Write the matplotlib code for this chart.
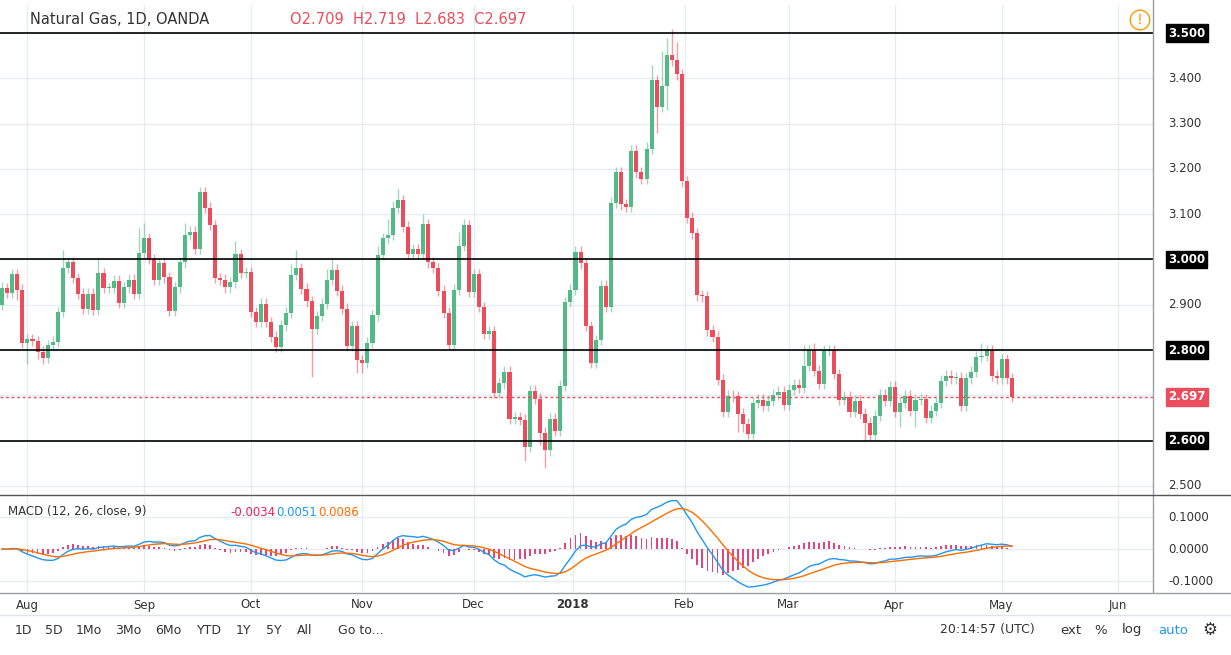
import numpy as np
import matplotlib
matplotlib.use("Agg")
import matplotlib.pyplot as plt
from matplotlib.patches import Rectangle

closes = [2.937,2.926,2.968,2.933,2.816,2.824,2.820,2.796,2.783,2.811,
          2.818,2.884,2.981,2.994,2.959,2.924,2.891,2.924,2.889,2.970,
          2.937,2.937,2.953,2.904,2.939,2.955,2.924,3.014,3.047,3.001,
          2.955,2.992,2.961,2.887,2.939,2.994,3.054,3.061,3.023,3.149,
          3.114,3.076,2.959,2.955,2.939,2.950,3.012,2.970,2.972,2.884,
          2.862,2.902,2.862,2.829,2.807,2.855,2.882,2.966,2.981,2.935,
          2.908,2.847,2.875,2.902,2.955,2.977,2.931,2.891,2.809,2.853,
          2.778,2.772,2.816,2.877,3.010,3.047,3.054,3.114,3.131,3.072,
          3.012,3.023,3.012,3.078,2.994,2.981,2.931,2.882,2.811,2.933,
          3.030,3.076,2.928,2.968,2.895,2.836,2.842,2.705,2.727,2.752,
          2.648,2.652,2.646,2.586,2.710,2.692,2.617,2.579,2.648,2.621,
          2.721,2.906,2.933,3.017,2.992,2.853,2.772,2.822,2.942,2.895,
          3.125,3.193,3.122,3.116,3.240,3.193,3.178,3.244,3.396,3.337,
          3.383,3.451,3.440,3.409,3.173,3.092,3.058,2.921,2.919,2.844,
          2.829,2.734,2.663,2.699,2.698,2.659,2.637,2.615,2.684,2.690,
          2.677,2.688,2.701,2.708,2.679,2.712,2.723,2.716,2.765,2.800,
          2.754,2.725,2.798,2.799,2.747,2.690,2.697,2.663,2.688,2.659,
          2.639,2.613,2.655,2.701,2.688,2.719,2.663,2.684,2.699,2.666,
          2.690,2.691,2.650,2.666,2.684,2.732,2.743,2.738,2.739,2.677,
          2.738,2.752,2.785,2.787,2.800,2.743,2.738,2.780,2.738,2.697]
first_open = 2.900
default_wick = 0.012
high_spikes = {0: 2.95, 12: 3.02, 19: 3.0, 27: 3.07, 28: 3.08, 36: 3.08, 39: 3.16, 40: 3.16,
               46: 3.04, 57: 2.99, 58: 3.02, 64: 2.98, 65: 3.00, 74: 3.03, 76: 3.09,
               77: 3.13, 78: 3.155, 83: 3.10, 90: 3.06, 91: 3.09, 92: 3.07, 127: 3.26,
               128: 3.43, 129: 3.39, 130: 3.46, 131: 3.49, 132: 3.51, 133: 3.48,
               158: 2.81, 160: 2.815, 162: 2.81, 193: 2.815, 194: 2.805}
low_spikes = {3: 2.91, 5: 2.77, 7: 2.78, 8: 2.77, 61: 2.74, 70: 2.75, 71: 2.75,
              103: 2.555, 107: 2.54, 106: 2.59, 129: 3.28, 131: 3.33, 145: 2.62,
              146: 2.62, 170: 2.60, 171: 2.61, 177: 2.63, 180: 2.63, 199: 2.685}
month_ticks = [5, 28, 49, 71, 93, 112.6, 134.5, 155, 176, 197, 220]
month_labels = ["Aug", "Sep", "Oct", "Nov", "Dec", "2018", "Feb", "Mar", "Apr", "May", "Jun"]
key_levels = [3.5, 3.0, 2.8, 2.6]
price_ticks = [2.5, 2.6, 2.7, 2.8, 2.9, 3.0, 3.1, 3.2, 3.3, 3.4, 3.5]
macd_ticks = [0.1, 0.0, -0.1]
last_price = 2.697

c = np.array(closes)
o = np.concatenate([[first_open], c[:-1]])
h = np.maximum(o, c) + default_wick
l = np.minimum(o, c) - default_wick
for k, v in high_spikes.items():
    h[k] = max(h[k], v)
for k, v in low_spikes.items():
    l[k] = min(l[k], v)

def ema(x, n):
    a = 2 / (n + 1)
    out = np.empty_like(x)
    out[0] = x[0]
    for i in range(1, len(x)):
        out[i] = a * x[i] + (1 - a) * out[i - 1]
    return out
macd = ema(c, 12) - ema(c, 26)
sig = ema(macd, 9)
hist = macd - sig

W, H = 1231, 655
fig = plt.figure(figsize=(W / 100, H / 100), dpi=100)
fig.patch.set_facecolor("white")
def fx(px): return px / W
def fy(py): return 1 - py / H

GREEN, RED = "#53b987", "#eb4d5c"
xl = (-0.4, 226.8)
ax = fig.add_axes([0, fy(494), fx(1153), fy(5) - fy(494)])
ax.set_xlim(*xl); ax.set_ylim(2.482, 3.562)
for t in price_ticks:
    ax.axhline(t, color="#e6edf2", lw=1, zorder=0)
for t in month_ticks:
    ax.axvline(t, color="#e6edf2", lw=1, zorder=0)
for i in range(len(c)):
    col = GREEN if c[i] >= o[i] else RED
    ax.vlines(i, l[i], h[i], color=col, alpha=0.55, lw=1, zorder=2)
    lo, hi = min(o[i], c[i]), max(o[i], c[i])
    ax.add_patch(Rectangle((i - 0.4, lo), 0.8, max(hi - lo, 0.0015), color=col, lw=0, zorder=3))
for lv in key_levels:
    ax.axhline(lv, color="black", lw=1.2, zorder=4)
ax.axhline(last_price, color=RED, lw=1, ls=(0, (2, 2)), zorder=4)
ax.set_xticks([]); ax.set_yticks([])
for s in ax.spines.values(): s.set_visible(False)

ax2 = fig.add_axes([0, fy(592), fx(1153), fy(497) - fy(592)])
ax2.set_xlim(*xl); ax2.set_ylim(-0.134, 0.1625)
for t in macd_ticks:
    ax2.axhline(t, color="#e6edf2", lw=1, zorder=0)
for t in month_ticks:
    ax2.axvline(t, color="#e6edf2", lw=1, zorder=0)
ax2.bar(np.arange(len(c)), hist, width=0.35, color="#e0457b", zorder=2)
ax2.plot(np.arange(len(c)), macd, color="#2196f3", lw=1, zorder=3)
ax2.plot(np.arange(len(c)), sig, color="#ff6d00", lw=1, zorder=3)
ax2.set_xticks([]); ax2.set_yticks([])
for s in ax2.spines.values(): s.set_visible(False)

fig.add_artist(plt.Line2D([fx(1153)] * 2, [fy(0), fy(592)], color="#9aa0a6", lw=1))
fig.add_artist(plt.Line2D([0, 1], [fy(495)] * 2, color="#555", lw=1))
fig.add_artist(plt.Line2D([0, 1], [fy(593)] * 2, color="#9aa0a6", lw=1))
fig.add_artist(plt.Line2D([0, 1], [fy(615)] * 2, color="#e0e3eb", lw=1))

def ylab(ax_, val, txt, box=None, col="#333"):
    kw = dict(fontsize=8.5, va="center", ha="left", transform=ax_.get_yaxis_transform(), color=col)
    if box:
        kw["bbox"] = dict(boxstyle="square,pad=0.2", fc=box, ec=box)
        kw["color"] = "white"
        kw["fontweight"] = "bold"
    ax_.text(1.013, val, txt, clip_on=False, **kw)
for t in price_ticks:
    if abs(t - last_price) < 0.02:
        continue
    if t in key_levels:
        ylab(ax, t, f"{t:.3f}", box="black")
    else:
        ylab(ax, t, f"{t:.3f}")
ylab(ax, last_price, f"{last_price:.3f}", box=RED)
for t in macd_ticks:
    ylab(ax2, t, f"{t:.4f}" if t != 0 else "0.0000")

for t, lab in zip(month_ticks, month_labels):
    fig.text(fx(2 + 5.07 * t), fy(605), lab, fontsize=8.5, ha="center", va="center",
             color="#333", fontweight="bold" if lab == "2018" else "normal")

fig.text(fx(30), fy(20), "Natural Gas, 1D, OANDA", fontsize=10.5, va="center", color="#333")
fig.text(fx(290), fy(20), "O2.709  H2.719  L2.683  C2.697", fontsize=10.5, va="center", color=RED)
fig.text(fx(1140), fy(20), "!", fontsize=10, va="center", ha="center", color="#ff9800",
         bbox=dict(boxstyle="circle,pad=0.2", fc="white", ec="#ff9800"))
fig.text(fx(8), fy(512), "MACD (12, 26, close, 9)", fontsize=8.5, va="center", color="#333")
fig.text(fx(230), fy(512), "-0.0034", fontsize=8.5, va="center", color="#e91e63")
fig.text(fx(276), fy(512), "0.0051", fontsize=8.5, va="center", color="#2196f3")
fig.text(fx(318), fy(512), "0.0086", fontsize=8.5, va="center", color="#ff6d00")

for xp, t in zip([15, 45, 76, 115, 155, 197, 236, 266, 297, 338],
                 ["1D", "5D", "1Mo", "3Mo", "6Mo", "YTD", "1Y", "5Y", "All", "Go to..."]):
    fig.text(fx(xp), fy(630), t, fontsize=9, va="center", color="#333")
fig.text(fx(940), fy(630), "20:14:57 (UTC)", fontsize=9, va="center", color="#333")
for xp, t, col in [(1060, "ext", "#333"), (1094, "%", "#333"), (1122, "log", "#333"), (1158, "auto", "#2196f3")]:
    fig.text(fx(xp), fy(630), t, fontsize=9.5, va="center", color=col)
fig.text(fx(1210), fy(630), "\u2699", fontsize=12, va="center", ha="center", color="#333")

fig.savefig("out.png", dpi=100)
